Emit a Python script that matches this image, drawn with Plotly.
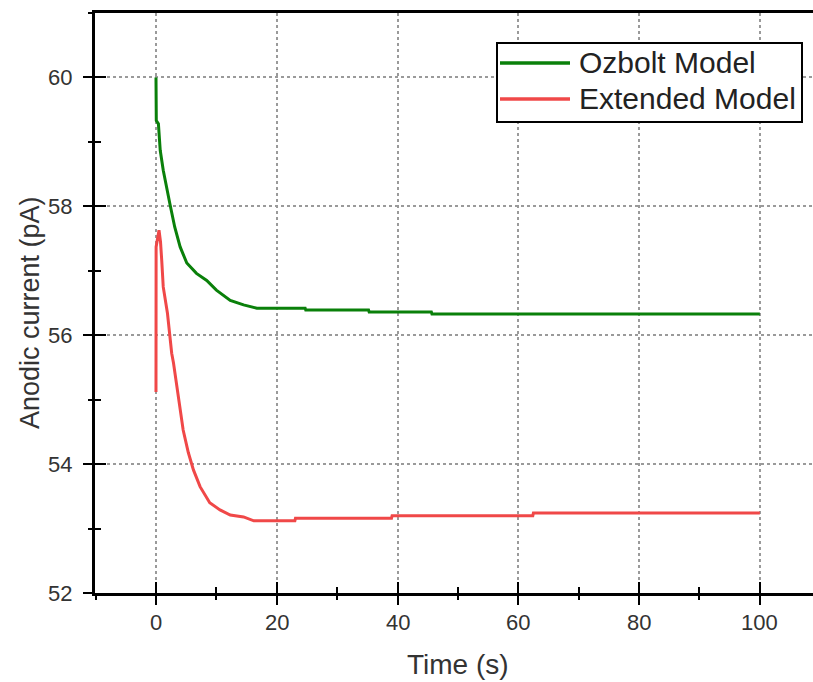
import plotly.graph_objects as go

# Ozbolt model (green)
t_ozbolt = [0, 0.05, 0.4, 0.7, 1.2, 1.8, 2.3, 3.1, 4.0, 5.1, 6.7, 8.4, 10.0, 12.3, 14.5, 16.7,
            24.7, 24.8, 35.2, 35.3, 45.6, 45.7, 100]
i_ozbolt = [60.0, 59.33, 59.28, 58.87, 58.56, 58.25, 58.04, 57.68, 57.37, 57.12, 56.96, 56.85,
            56.70, 56.54, 56.47, 56.42, 56.42, 56.39, 56.39, 56.36, 56.36, 56.33, 56.33]

# Extended model (red)
t_extended = [0, 0.02, 0.5, 0.75, 0.95, 1.2, 1.9, 2.6, 2.9, 3.7, 4.5, 5.35, 6.2, 7.3, 8.9, 10.6,
              12.3, 14.5, 16.2, 23.0, 23.1, 39.0, 39.1, 62.4, 62.5, 100]
i_extended = [55.12, 57.37, 57.63, 57.45, 57.16, 56.75, 56.34, 55.72, 55.57, 55.05, 54.53, 54.18,
              53.91, 53.65, 53.40, 53.29, 53.21, 53.18, 53.12, 53.12, 53.16, 53.16, 53.20, 53.20,
              53.24, 53.24]

series_names = ["Ozbolt Model", "Extended Model"]
series_colors = ["#0a800a", "#f04848"]
x_title = "Time (s)"
y_title = "Anodic current (pA)"

# tick labels
x_tick_vals = [0, 20, 40, 60, 80, 100]
x_tick_text = ["0", "20", "40", "60", "80", "100"]
y_tick_vals = [52, 54, 56, 58, 60]
y_tick_text = ["52", "54", "56", "58", "60"]

x_range = [-10.1, 108.8]
y_range = [52, 61]
font_family = "Liberation Sans, Arial, sans-serif"

# plot-area geometry (pixels) used to place the hand-drawn legend, titles and labels
L, R, T, B = 95, 813, 13, 593


def px(xp):
    return (xp - L) / (R - L)


def py(yp):
    return (B - yp) / (B - T)


fig = go.Figure()
fig.add_trace(go.Scatter(x=t_ozbolt, y=i_ozbolt, mode="lines", name=series_names[0],
                         line=dict(color=series_colors[0], width=3), showlegend=False))
fig.add_trace(go.Scatter(x=t_extended, y=i_extended, mode="lines", name=series_names[1],
                         line=dict(color=series_colors[1], width=3), showlegend=False))
# invisible traces to activate the overlay axes that draw the crossing ticks
for xa, ya in (("x2", "y2"), ("x3", "y3")):
    fig.add_trace(go.Scatter(x=[None], y=[None], xaxis=xa, yaxis=ya, showlegend=False,
                             hoverinfo="skip", mode="lines"))

# legend box drawn by hand (plotly's legend spacing cannot be made this tight)
shapes = [dict(type="rect", xref="paper", yref="paper", x0=px(497), x1=px(802),
               y0=py(122), y1=py(43), line=dict(color="black", width=2),
               fillcolor="white", layer="above")]
annotations = []
for k, (nm, col) in enumerate(zip(series_names, series_colors)):
    yc = 63 + 36 * k
    shapes.append(dict(type="line", xref="paper", yref="paper", x0=px(500), x1=px(570),
                       y0=py(yc), y1=py(yc), line=dict(color=col, width=3.5), layer="above"))
    annotations.append(dict(text=nm, xref="paper", yref="paper", x=px(577), y=py(yc),
                            xanchor="left", yanchor="middle", showarrow=False,
                            font=dict(family=font_family, size=30, color="#222222")))
# axis titles
annotations.append(dict(text=x_title, xref="paper", yref="paper", x=px(458), y=py(664),
                        xanchor="center", yanchor="middle", showarrow=False,
                        font=dict(family=font_family, size=28, color="#333333")))
annotations.append(dict(text=y_title, xref="paper", yref="paper", x=px(30), y=py(313),
                        xanchor="center", yanchor="middle", showarrow=False, textangle=-90,
                        font=dict(family=font_family, size=27, color="#333333")))

tick_font = dict(family=font_family, size=22, color="#333333")
# tick labels placed with the data scales
for v, s in zip(x_tick_vals, x_tick_text):
    annotations.append(dict(text=s, xref="x", yref="paper", x=v, y=py(622),
                            xanchor="center", yanchor="middle", showarrow=False, font=tick_font))
for v, s in zip(y_tick_vals, y_tick_text):
    annotations.append(dict(text=s, xref="paper", yref="y", x=px(74), y=v,
                            xanchor="right", yanchor="middle", showarrow=False, font=tick_font))


def tick_axis(rng, dtick, mdtick, tick0, direction, **kw):
    d = dict(range=rng, tick0=tick0, dtick=dtick, ticks=direction, ticklen=11, tickwidth=2,
             tickcolor="black", showticklabels=False, showgrid=False, zeroline=False,
             showline=False,
             minor=dict(dtick=mdtick, ticks=direction, ticklen=6, tickwidth=2, tickcolor="black",
                        showgrid=False))
    d.update(kw)
    return d


fig.update_layout(
    width=813, height=682,
    margin=dict(l=L, r=813 - R, t=T, b=682 - B, autoexpand=False),
    paper_bgcolor="white", plot_bgcolor="white",
    font=dict(family=font_family, color="#333333"),
    showlegend=False,
    shapes=shapes,
    annotations=annotations,
    xaxis=dict(range=x_range, tick0=0, dtick=20, ticks="", showticklabels=False,
               showline=True, linecolor="black", linewidth=2.5, mirror=True,
               showgrid=True, gridcolor="#9a9a9a", griddash="dot", gridwidth=1.5,
               zeroline=False, automargin=False),
    yaxis=dict(range=y_range, tick0=52, dtick=2, ticks="", showticklabels=False,
               showline=True, linecolor="black", linewidth=2.5, mirror=False,
               showgrid=True, gridcolor="#9a9a9a", griddash="dot", gridwidth=1.5,
               zeroline=False, automargin=False),
    xaxis2=tick_axis(x_range, 20, 10, 0, "outside", overlaying="x", anchor="y"),
    yaxis2=tick_axis(y_range, 2, 1, 52, "outside", overlaying="y", anchor="x", side="left"),
    xaxis3=tick_axis(x_range, 20, 10, 0, "inside", overlaying="x", anchor="y"),
    yaxis3=tick_axis(y_range, 2, 1, 52, "inside", overlaying="y", anchor="x", side="left"),
)

fig.write_html("out.html")
